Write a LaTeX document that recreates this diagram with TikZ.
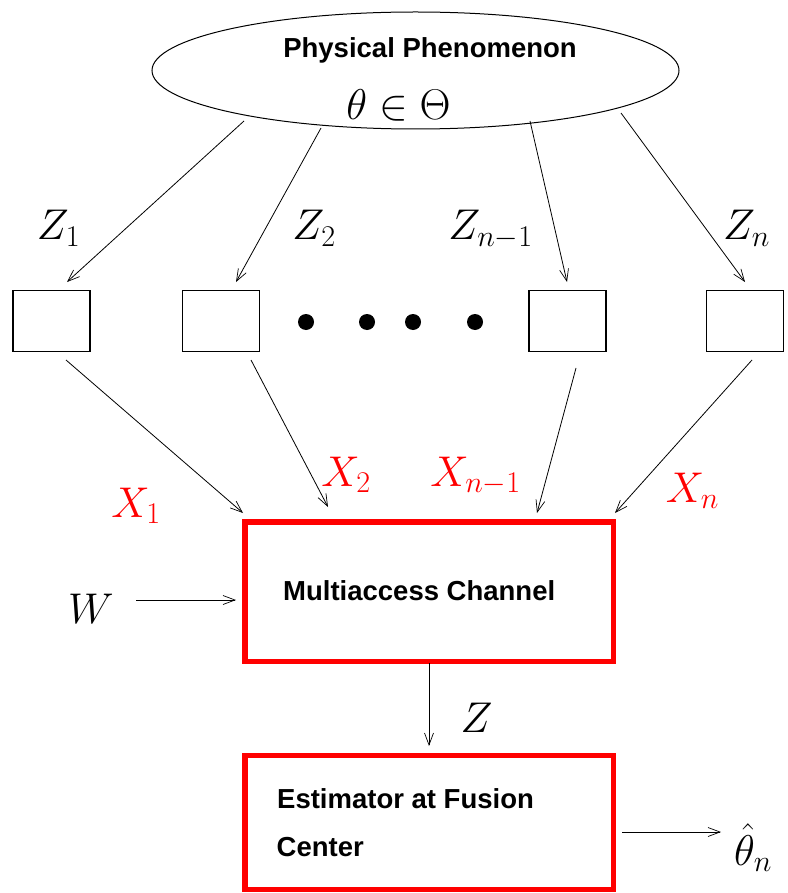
\documentclass[tikz,border=0pt]{standalone}
\usepackage{fontspec}
% scalable math fonts for the large labels (display design sizes)
\DeclareFontShape{OML}{cmm}{m}{it}{<->cmmi12}{}
\DeclareFontShape{OMS}{cmsy}{m}{n}{<->cmsy10}{}
\DeclareFontShape{OT1}{cmr}{m}{n}{<->cmr17}{}
\newfontfamily\boxfont{Liberation Sans}
\usetikzlibrary{shapes.geometric,arrows.meta}
\begin{document}
\begin{tikzpicture}[x=1pt,y=-1pt,
  conn/.style={draw, line width=0.8pt,
    -{Straight Barb[length=12pt,width=9pt,line width=0.7pt]}},
  sensor/.style={draw, line width=1.1pt, minimum width=77pt,
    minimum height=61pt, inner sep=0pt},
  redbox/.style={draw=red, line width=5.5pt, minimum width=368.5pt,
    inner sep=0pt},
  mathlbl/.style={font=\fontsize{43}{50}\selectfont, inner sep=0pt, anchor=base},
  boxtext/.style={font=\boxfont\bfseries\fontsize{27.5}{33}\selectfont,
    inner sep=0pt, anchor=base west},
  dot/.style={circle, fill, minimum size=16pt, inner sep=0pt}
]
\useasboundingbox (0,0) rectangle (787,893);

% source of the observations
\node[ellipse, draw, line width=1pt, minimum width=527pt,
      minimum height=117pt, inner sep=0pt] (phen) at (415.5,70.5) {};
\node[boxtext, anchor=base] (phentxt) at (430,58) {Physical Phenomenon};
\node[mathlbl] (theta) at (398.5,120) {$\theta\in\Theta$};

% sensors
\node[sensor] (s1) at (51.5,321.2) {};
\node[sensor] (s2) at (221,321.2) {};
\node[sensor] (s3) at (567.5,321.2) {};
\node[sensor] (s4) at (745,321.2) {};
\node[dot] (d1) at (306,322) {};
\node[dot] (d2) at (367,322) {};
\node[dot] (d3) at (413,322) {};
\node[dot] (d4) at (475,322) {};

% channel and fusion center
\node[redbox, minimum height=139.5pt] (mac) at (429.25,591.75) {};
\node[boxtext] (mactxt) at (283,600) {Multiaccess Channel};
\node[redbox, minimum height=134pt] (fc) at (429.25,822.5) {};
\node[boxtext] (fctxt1) at (277,808) {Estimator at Fusion};
\node[boxtext] (fctxt2) at (276.5,856) {Center};

% observation links
\coordinate (o1) at (244,121);  \coordinate (i1) at (67,282);
\coordinate (o2) at (321,128);  \coordinate (i2) at (236,282);
\coordinate (o3) at (530,121);  \coordinate (i3) at (567,282);
\coordinate (o4) at (621,113);  \coordinate (i4) at (745,282);
\draw[conn] (o1) -- (i1);
\draw[conn] (o2) -- (i2);
\draw[conn] (o3) -- (i3);
\draw[conn] (o4) -- (i4);
\node[mathlbl] (z1) at (58.5,240) {$Z_1$};
\node[mathlbl] (z2) at (314,240) {$Z_2$};
\node[mathlbl] (zn1) at (490.5,240) {$Z_{n-1}$};
\node[mathlbl] (zn) at (746.5,240) {$Z_n$};

% transmitted signals
\coordinate (t1) at (66,360);   \coordinate (r1) at (243,513);
\coordinate (t2) at (251,360);  \coordinate (r2) at (328,507);
\coordinate (t3) at (576,368);  \coordinate (r3) at (537,513);
\coordinate (t4) at (752,360);  \coordinate (r4) at (615,513);
\draw[conn] (t1) -- (r1);
\draw[conn] (t2) -- (r2);
\draw[conn] (t3) -- (r3);
\draw[conn] (t4) -- (r4);
\node[mathlbl, text=red] (x1) at (136,517) {$X_1$};
\node[mathlbl, text=red] (x2) at (346,486) {$X_2$};
\node[mathlbl, text=red] (xn1) at (475.5,486) {$X_{n-1}$};
\node[mathlbl, text=red] (xn) at (692.5,502) {$X_n$};

% noise, channel output, estimate
\node[mathlbl] (w) at (91,623) {$W$};
\coordinate (win) at (136,600);  \coordinate (wout) at (236,600);
\draw[conn] (win) -- (wout);
\coordinate (zin) at (429,663);  \coordinate (zout) at (429,746);
\draw[conn] (zin) -- (zout);
\node[mathlbl] (z) at (476.5,732) {$Z$};
\coordinate (ein) at (622,832);  \coordinate (eout) at (721,832);
\draw[conn] (ein) -- (eout);
\node[mathlbl] (est) at (753,865) {$\hat{\theta}_n$};
\end{tikzpicture}
\end{document}
